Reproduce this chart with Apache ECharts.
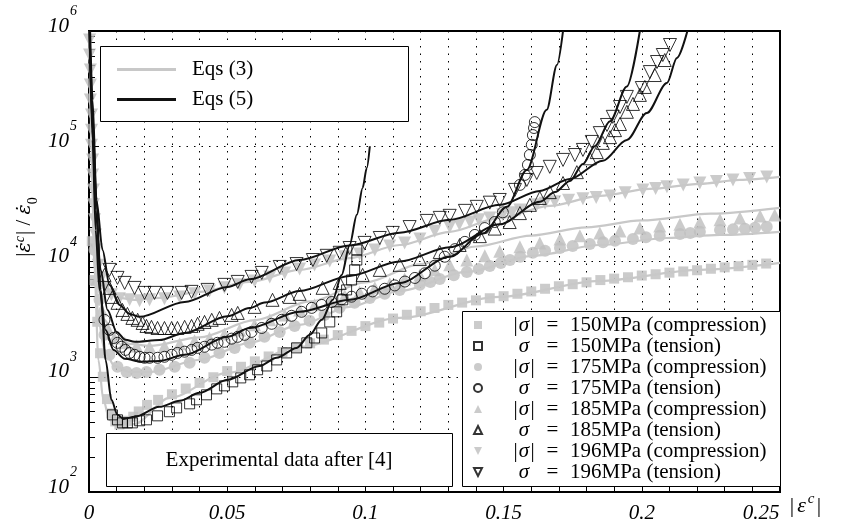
<!DOCTYPE html>
<html><head><meta charset="utf-8">
<script src="https://cdn.jsdelivr.net/npm/echarts@6/dist/echarts.min.js"></script>
<style>html,body{margin:0;padding:0;background:#fff}#c{width:843px;height:530px}</style>
</head><body><div id="c"></div>
<script>
// ---------- data (x = |eps^c|, y = rate ratio) ----------
const stressLevels = ['150', '175', '185', '196'];
const xMinorTicks = [0.01,0.02,0.03,0.04,0.05,0.06,0.07,0.08,0.09,0.1,0.11,0.12,0.13,0.14,0.15,0.16,0.17,0.18,0.19,0.2,0.21,0.22,0.23,0.24];
const yMinorTicks = [200,300,400,500,600,700,800,900,2000,3000,4000,5000,6000,7000,8000,9000,20000,30000,40000,50000,60000,70000,80000,90000,200000,300000,400000,500000,600000,700000,800000,900000];
const xTickLabels = ['0','0.05','0.1','0.15','0.2','0.25'];

const sq150c = [[0.001,15000],[0.002,6900],[0.003,3000],[0.004,1600],[0.005,1000],[0.0065,640],[0.008,480],[0.0095,410],[0.011,385],[0.0125,395],[0.014,415],[0.016,450],[0.018,500],[0.021,570],[0.025,630],[0.03,705],[0.035,790],[0.04,885],[0.045,990],[0.05,1120],[0.055,1220],[0.06,1360],[0.065,1500],[0.07,1640],[0.075,1800],[0.08,1950],[0.085,2100],[0.09,2300],[0.095,2500],[0.1,2750],[0.105,2950],[0.11,3200],[0.115,3450],[0.12,3700],[0.125,3950],[0.13,4200],[0.135,4400],[0.14,4600],[0.145,4800],[0.15,5000],[0.155,5250],[0.16,5500],[0.165,5800],[0.17,6100],[0.175,6350],[0.18,6600],[0.185,6900],[0.19,7100],[0.195,7300],[0.2,7550],[0.205,7750],[0.21,8000],[0.215,8200],[0.22,8400],[0.225,8650],[0.23,8900],[0.235,9100],[0.24,9350],[0.245,9600]];
const sq150t = [[0.0085,467],[0.0103,423],[0.0121,398],[0.0139,398],[0.0157,398],[0.0183,415],[0.0208,423],[0.0248,458],[0.0291,497],[0.0317,537],[0.0364,582],[0.0389,631],[0.0425,697],[0.0462,785],[0.049,834],[0.052,903],[0.0549,977],[0.0581,1040],[0.061,1150],[0.0643,1240],[0.0679,1400],[0.0715,1610],[0.0751,1780],[0.0788,1970],[0.0816,2170],[0.0842,2400],[0.0871,2990],[0.0896,3660],[0.0918,4650],[0.0932,5670],[0.095,6920],[0.0961,8460],[0.0969,10300],[0.0969,12600]];
const ci175c = [[0.002,12600],[0.0038,4650],[0.0056,2310],[0.0074,1550],[0.0103,1220],[0.0136,1100],[0.0172,1080],[0.0208,1100],[0.0255,1150],[0.031,1220],[0.0364,1320],[0.0418,1460],[0.0472,1610],[0.0527,1780],[0.0581,1970],[0.0635,2220],[0.069,2450],[0.0744,2760],[0.0798,3060],[0.0852,3440],[0.0907,3960],[0.0961,4380],[0.1016,4830],[0.107,5240],[0.1124,5670],[0.1197,6270],[0.1235,6650],[0.1269,7060],[0.132,7600],[0.1367,8120],[0.141,8600],[0.145,9160],[0.149,9700],[0.1523,10300],[0.156,11000],[0.1606,11900],[0.165,12400],[0.1704,13100],[0.175,13600],[0.1812,14200],[0.186,14700],[0.1903,15100],[0.1968,15700],[0.2015,16200],[0.2065,16700],[0.2138,17300],[0.2175,17700],[0.221,18100],[0.2283,18800],[0.233,19000],[0.2373,19200],[0.241,19600],[0.2452,20000]];
const ci175t = [[0.0056,3120],[0.0074,2550],[0.0089,2170],[0.0103,1970],[0.0118,1820],[0.0132,1710],[0.0147,1610],[0.0165,1550],[0.0183,1490],[0.0201,1460],[0.0219,1460],[0.0248,1460],[0.0273,1490],[0.0299,1550],[0.032,1610],[0.0346,1650],[0.0371,1710],[0.0393,1780],[0.0418,1820],[0.0444,1900],[0.0465,1970],[0.049,2010],[0.0516,2140],[0.0538,2220],[0.0563,2310],[0.0588,2450],[0.0625,2650],[0.0661,2880],[0.0697,3120],[0.0733,3380],[0.0769,3660],[0.0806,3960],[0.0842,4200],[0.0878,4450],[0.0914,4700],[0.095,4950],[0.0987,5250],[0.1026,5500],[0.107,5800],[0.1106,6200],[0.1143,6700],[0.1179,7200],[0.1215,7900],[0.1251,9200],[0.1287,11000],[0.1324,12800],[0.136,14800],[0.1396,17000],[0.1432,19500],[0.1468,22000],[0.1497,26700],[0.1559,46200],[0.1577,56400],[0.1588,68900],[0.1595,84100],[0.1602,103000],[0.1606,125000],[0.161,144000],[0.1613,162000]];
const tr185c = [[0.0027,6930],[0.0045,3800],[0.0067,2650],[0.0092,2170],[0.0129,1970],[0.0172,1850],[0.0219,1820],[0.0273,1850],[0.0328,1930],[0.0382,2050],[0.0436,2170],[0.049,2350],[0.0545,2550],[0.0599,2820],[0.0654,3120],[0.0708,3440],[0.0762,3800],[0.0816,4210],[0.0871,4650],[0.0925,5040],[0.0979,5450],[0.1034,5910],[0.1088,6400],[0.1142,7060],[0.1197,7650],[0.1251,8460],[0.1305,9360],[0.1367,10300],[0.1432,11200],[0.1486,12300],[0.1559,13400],[0.1631,14500],[0.1704,15700],[0.1776,16700],[0.1848,17700],[0.1921,18400],[0.1993,19500],[0.2065,20300],[0.2138,21100],[0.221,22000],[0.2283,23000],[0.2355,23900],[0.2428,24800],[0.2481,25300]];
const tr185t = [[0.0056,7650],[0.0074,5900],[0.0085,4930],[0.0103,4380],[0.0121,3800],[0.0139,3510],[0.0157,3240],[0.0176,3120],[0.0194,2930],[0.0208,2760],[0.0226,2710],[0.0248,2650],[0.0273,2650],[0.0299,2650],[0.032,2650],[0.0346,2710],[0.0371,2760],[0.0393,2880],[0.0418,2990],[0.0444,3120],[0.0472,3240],[0.0516,3440],[0.0538,3580],[0.0599,4040],[0.0664,4650],[0.0726,4930],[0.0762,5240],[0.0845,5910],[0.0907,6520],[0.099,7650],[0.1052,8460],[0.1124,9360],[0.1197,10500],[0.1269,12100],[0.1341,13900],[0.1414,16600],[0.1468,19300],[0.1522,22000],[0.1559,26300],[0.1595,31000],[0.1631,35600],[0.1667,40000],[0.1715,48000],[0.1765,59600],[0.1812,78600],[0.1837,89000],[0.1859,107000],[0.1885,120000],[0.1903,138000],[0.1921,156000],[0.1946,199000],[0.1968,233000],[0.1993,279000],[0.2011,327000],[0.2047,415000],[0.2083,560000]];
const tr196c = [[0.0002,836000],[0.0002,619000],[0.0005,459000],[0.0005,340000],[0.0005,252000],[0.0009,187000],[0.0009,138000],[0.0009,102000],[0.0013,76100],[0.0013,56400],[0.0016,41800],[0.0016,31000],[0.002,23000],[0.0024,17000],[0.0027,12600],[0.0034,9300],[0.0045,7210],[0.006,5900],[0.0081,5140],[0.011,4740],[0.0147,4650],[0.0183,4560],[0.0219,4650],[0.0273,4740],[0.0328,4930],[0.0382,5240],[0.0436,5560],[0.049,5910],[0.0545,6270],[0.0599,6790],[0.0654,7350],[0.0708,7960],[0.0762,8620],[0.0816,9340],[0.0871,10100],[0.0925,11000],[0.0979,11600],[0.1034,12600],[0.1088,13600],[0.1142,14500],[0.1197,15700],[0.1251,18300],[0.1305,19900],[0.134,21000],[0.1378,22000],[0.141,23000],[0.145,23900],[0.1497,25400],[0.153,26500],[0.1559,28000],[0.162,31000],[0.165,32000],[0.1685,33000],[0.1735,34000],[0.1787,35000],[0.1835,36000],[0.1885,37100],[0.194,39500],[0.2004,41800],[0.205,43000],[0.2091,44500],[0.215,46000],[0.221,48000],[0.227,49500],[0.233,51000],[0.239,52500],[0.2452,54200]];
const tr196t = [[0.0074,8460],[0.0103,7210],[0.0129,6520],[0.0165,5900],[0.0201,5340],[0.0237,5340],[0.0284,5340],[0.0335,5340],[0.0371,5450],[0.0429,5670],[0.049,6270],[0.0538,6650],[0.0588,7350],[0.0625,7960],[0.069,8970],[0.0751,9500],[0.081,10300],[0.086,11200],[0.0907,11900],[0.0943,13100],[0.0997,14500],[0.1052,16000],[0.1099,17700],[0.116,19900],[0.1222,22500],[0.1269,23900],[0.1305,24900],[0.136,27500],[0.1403,29800],[0.145,32400],[0.1486,34200],[0.1541,41800],[0.1584,51000],[0.162,58600],[0.1667,66300],[0.1715,76100],[0.1758,83900],[0.1787,92900],[0.1819,109000],[0.1848,130000],[0.1874,153000],[0.1895,180000],[0.1921,219000],[0.1946,268000],[0.2,320000],[0.2029,440000],[0.2055,538000],[0.2076,619000],[0.2102,756000]];

// Eqs (3): grey model curves
const e3_150 = [[0.0002,1e6],[0.0009,92900],[0.002,8460],[0.0034,1400],[0.0052,631],[0.0074,423],[0.011,361],[0.0165,390],[0.0291,656],[0.0501,1080],[0.0762,1820],[0.1124,3240],[0.1486,4930],[0.1848,6790],[0.2209,8460],[0.25,9720]];
const e3_175 = [[0.0002,1e6],[0.0009,113500],[0.002,12600],[0.0034,3120],[0.0056,1710],[0.0092,1240],[0.0147,1100],[0.0219,1100],[0.04,1400],[0.0581,1970],[0.0762,2820],[0.0943,4040],[0.1124,5560],[0.1367,8120],[0.1606,11200],[0.1848,13900],[0.2091,16000],[0.2283,17000],[0.25,18100]];
const e3_185 = [[0.0002,1e6],[0.0009,138000],[0.002,18800],[0.0034,5670],[0.0056,3120],[0.0092,2220],[0.0147,1930],[0.0219,1850],[0.04,2200],[0.06,3100],[0.08,4500],[0.1,6600],[0.12,9500],[0.14,13500],[0.16,16800],[0.18,19800],[0.2,22700],[0.225,26000],[0.25,29200]];
const e3_196 = [[0.0002,1e6],[0.0009,169000],[0.0016,34200],[0.0027,12600],[0.0045,7210],[0.0074,5450],[0.011,4830],[0.0165,4650],[0.0255,4830],[0.04,5450],[0.0581,6650],[0.0762,8460],[0.0943,10700],[0.1124,13900],[0.1305,18100],[0.1486,23900],[0.1667,30400],[0.1848,37100],[0.2029,42600],[0.2209,47100],[0.2354,51000],[0.25,54200]];
// Eqs (5): black model curves
const e5_150 = [[0.0004,1e6],[0.0013,252000],[0.0027,34200],[0.0042,5670],[0.006,1400],[0.0081,631],[0.0103,467],[0.0125,431],[0.0165,449],[0.0255,548],[0.0328,618],[0.04,725],[0.0501,940],[0.0617,1240],[0.0679,1460],[0.0751,1780],[0.0799,2310],[0.0842,3120],[0.0882,4650],[0.0914,7650],[0.0943,13900],[0.0969,25400],[0.099,43500],[0.1005,64800],[0.1016,100000]];
const e5_175 = [[0.0002,1e6],[0.0013,113500],[0.0024,18800],[0.0038,5670],[0.006,2550],[0.0089,1710],[0.0129,1430],[0.019,1350],[0.0255,1370],[0.0346,1550],[0.0501,2220],[0.0581,2650],[0.0762,3660],[0.0943,4650],[0.1124,6520],[0.1305,11000],[0.1425,17500],[0.1512,29800],[0.1584,62300],[0.1656,207000],[0.1693,507000],[0.1715,1e6]];
const e5_185 = [[0.0002,1e6],[0.0013,138000],[0.0024,28000],[0.0042,8460],[0.0067,3800],[0.01,2450],[0.0132,2090],[0.0165,2010],[0.0255,2080],[0.0346,2400],[0.0501,3350],[0.0581,3950],[0.0635,4400],[0.0762,5550],[0.0943,7500],[0.1124,10000],[0.1305,13300],[0.1486,21000],[0.1631,33000],[0.1686,40000],[0.174,50000],[0.1787,70000],[0.183,100000],[0.1885,165000],[0.1946,330000],[0.1993,1e6]];
const e5_196 = [[0.0002,1e6],[0.0013,169000],[0.0027,34200],[0.0049,12600],[0.0074,6270],[0.011,4200],[0.0147,3510],[0.0183,3310],[0.0346,4460],[0.0501,6020],[0.0581,7000],[0.0762,10300],[0.0943,13800],[0.1124,17800],[0.1305,23000],[0.1486,31000],[0.1631,41000],[0.174,52000],[0.1859,75000],[0.1946,113500],[0.2018,194000],[0.2091,354000],[0.2127,583000],[0.2165,1e6]];

// ---------- chart ----------
const FONT = '"Liberation Serif","Times New Roman",serif';
const GREY = '#bebebe';
const GREYLINE = '#c8c8c8';
const DOWN = 'path://M0,0L10,0L5,10Z';

const expNames = [];
stressLevels.forEach(s => {
  expNames.push('|σ| = ' + s + 'MPa (compression)');
  expNames.push('σ = ' + s + 'MPa (tension)');
});
const expData = [sq150c, sq150t, ci175c, ci175t, tr185c, tr185t, tr196c, tr196t];
const symbols = ['rect','rect','circle','circle','triangle','triangle',DOWN,DOWN];
const sizes = [10,10,12,11,13,13,13,13];

const series = [];
expData.forEach((d, i) => {
  const filled = i % 2 === 0;
  series.push({
    name: expNames[i], type: 'scatter', data: d,
    symbol: symbols[i], symbolSize: sizes[i],
    itemStyle: filled ? {color: GREY, borderWidth: 0}
                      : {color: 'rgba(255,255,255,0)', borderColor: '#000', borderWidth: 1},
    z: filled ? 2 : 4, silent: true
  });
});
[e3_150, e3_175, e3_185, e3_196].forEach(d => series.push({
  name: 'Eqs (3)', type: 'line', data: d, symbol: 'none', smooth: 0.3, smoothMonotone: 'x',
  lineStyle: {color: GREYLINE, width: 2.2}, itemStyle: {color: GREYLINE}, z: 3, silent: true
}));
[e5_150, e5_175, e5_185, e5_196].forEach(d => series.push({
  name: 'Eqs (5)', type: 'line', data: d, symbol: 'none', smooth: 0.3, smoothMonotone: 'x',
  lineStyle: {color: '#111', width: 2}, itemStyle: {color: '#111'}, z: 5, silent: true
}));

const legRich = {
  g: {width: 26, lineHeight: 21},
  p: {width: 5, align: 'center', fontSize: 21, fontFamily: FONT, lineHeight: 21},
  i: {width: 12, align: 'center', fontSize: 21, fontFamily: FONT, fontStyle: 'italic', lineHeight: 21},
  q: {width: 35, align: 'center', fontSize: 21, fontFamily: FONT, lineHeight: 21},
  t: {fontSize: 21, fontFamily: FONT, lineHeight: 21}
};

const chart = echarts.init(document.getElementById('c'), null, {renderer: 'canvas'});
chart.setOption({
  animation: false,
  backgroundColor: '#fff',
  grid: {left: 89, right: 63, top: 31, bottom: 38, show: true, borderColor: '#000', borderWidth: 2, backgroundColor: 'transparent'},
  xAxis: {
    type: 'value', min: 0, max: 0.25, interval: 0.05,
    axisLine: {show: false},
    axisTick: {show: true, inside: true, length: 5, customValues: xMinorTicks, lineStyle: {color: '#000', width: 1}},
    splitLine: {show: true, lineStyle: {color: '#000', type: [1.5, 6], width: 1}},
    axisLabel: {
      margin: 11, color: '#000', fontFamily: FONT, fontSize: 21, fontStyle: 'italic',
      formatter: v => {
        const lbl = xTickLabels[Math.round(v / 0.05)];
        return lbl === '0.25' ? '{r|' + lbl + '}' : lbl;
      },
      rich: {r: {fontFamily: FONT, fontSize: 21, fontStyle: 'italic', color: '#000', padding: [0, 38, 0, 0]}}
    }
  },
  yAxis: [{
    type: 'log', logBase: 10, min: 100, max: 1e6,
    axisLine: {show: false},
    axisTick: {show: true, inside: true, length: 10, lineStyle: {color: '#000', width: 1}},
    splitLine: {show: true, lineStyle: {color: '#000', type: [1.5, 6], width: 1}},
    axisLabel: {
      margin: 12, color: '#000',
      formatter: v => '{b|10}{s|' + Math.round(Math.log10(v)) + '}',
      rich: {
        b: {fontFamily: FONT, fontSize: 21, fontStyle: 'italic', color: '#000', lineHeight: 21, verticalAlign: 'bottom', padding: [0, 0, 5, 0]},
        s: {fontFamily: FONT, fontSize: 14, fontStyle: 'italic', color: '#000', lineHeight: 14, verticalAlign: 'bottom', padding: [0, 0, 23, 1]}
      }
    }
  }, {
    type: 'log', logBase: 10, min: 100, max: 1e6, position: 'left',
    axisLine: {show: false}, axisLabel: {show: false}, splitLine: {show: false},
    axisTick: {show: true, inside: true, length: 6, customValues: yMinorTicks, lineStyle: {color: '#000', width: 1}}
  }],
  legend: [{
    data: [{name: 'Eqs (3)', icon: 'rect'}, {name: 'Eqs (5)', icon: 'rect'}],
    orient: 'vertical', left: 117, top: 59, padding: 0,
    itemWidth: 59, itemHeight: 3, itemGap: 9, z: 200, selectedMode: false,
    textStyle: {fontFamily: FONT, fontSize: 21, color: '#000', lineHeight: 20, padding: [0, 0, 0, 11]}
  }, {
    data: expNames, orient: 'vertical', left: 473, top: 314.5, padding: 0,
    itemWidth: 8, itemHeight: 8, itemGap: 0, z: 200, selectedMode: false,
    textStyle: {fontFamily: FONT, fontSize: 21, color: '#000', lineHeight: 21, rich: legRich},
    formatter: name => {
      const comp = name.charAt(0) === '|';
      const rest = name.split('= ')[1];
      return comp ? '{g|}{p||}{i|σ}{p||}{q|=}{t|' + rest + '}'
                  : '{g|}{p| }{i|σ}{p| }{q|=}{t|' + rest + '}';
    }
  }],
  graphic: [
    {type: 'rect', z: 100, shape: {x: 100.5, y: 46.5, width: 308, height: 75}, style: {fill: '#fff', stroke: '#000', lineWidth: 1}},
    {type: 'rect', z: 100, shape: {x: 462.5, y: 311.5, width: 318, height: 175}, style: {fill: '#fff', stroke: '#000', lineWidth: 1}},
    {type: 'rect', z: 100, shape: {x: 106.5, y: 433.5, width: 346, height: 53}, style: {fill: '#fff', stroke: '#000', lineWidth: 1}},
    {type: 'text', z: 101, x: 279, y: 460, style: {text: 'Experimental data after [4]', font: '21px ' + FONT, fill: '#000', align: 'center', verticalAlign: 'middle'}},
    {type: 'text', z: 101, x: 788, y: 512, style: {
      text: '{a||}{e|ε}{s|c}{a||}', align: 'left', verticalAlign: 'middle',
      rich: {
        a: {fontFamily: FONT, fontSize: 22, fill: '#000', lineHeight: 22, width: 8, align: 'center', verticalAlign: 'bottom', padding: [0, 0, 6, 0]},
        e: {fontFamily: FONT, fontSize: 22, fontStyle: 'italic', fill: '#000', lineHeight: 22, width: 11, align: 'center', verticalAlign: 'bottom', padding: [0, 0, 6, 0]},
        s: {fontFamily: FONT, fontSize: 15, fontStyle: 'italic', fill: '#000', lineHeight: 15, width: 8, align: 'left', verticalAlign: 'bottom', padding: [0, 0, 16, 0]}
      }}},
    {type: 'text', z: 101, x: 30, y: 227, rotation: Math.PI / 2, style: {
      text: '{a||}{e|ε\u0307}{s|c}{a||}{a| / }{e|ε\u0307}{u|0}', align: 'center', verticalAlign: 'middle',
      rich: {
        a: {fontFamily: FONT, fontSize: 21, fill: '#000', lineHeight: 21, verticalAlign: 'bottom', padding: [0, 0, 6, 0]},
        e: {fontFamily: '"DejaVu Serif",' + FONT, fontSize: 19, fontStyle: 'italic', fill: '#000', lineHeight: 21, verticalAlign: 'bottom', padding: [0, 0, 6, 0]},
        s: {fontFamily: FONT, fontSize: 14, fontStyle: 'italic', fill: '#000', lineHeight: 14, verticalAlign: 'bottom', padding: [0, 1, 13, 0]},
        u: {fontFamily: FONT, fontSize: 14, fill: '#000', lineHeight: 14, verticalAlign: 'bottom', padding: [0, 0, 0, 0]}
      }}}
  ],
  series: series
});
</script></body></html>
